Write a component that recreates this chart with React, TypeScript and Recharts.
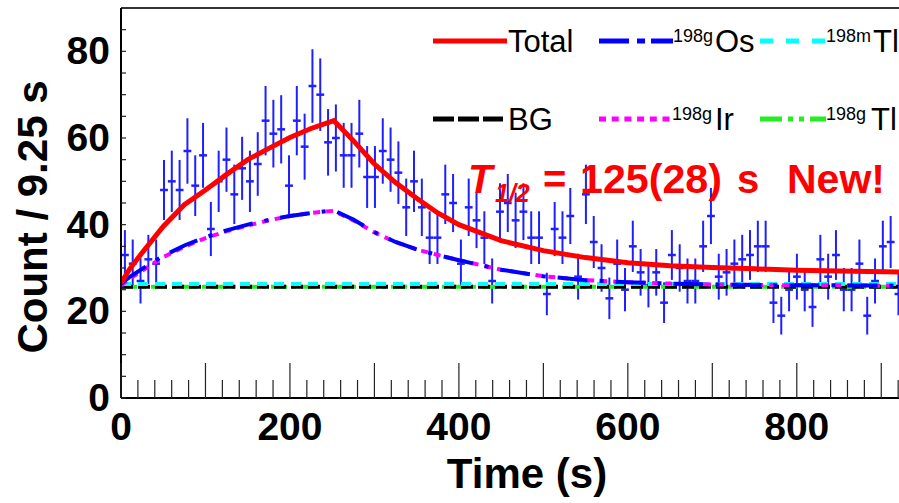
import React from "react";
import { ComposedChart, ErrorBar, Line, ReferenceLine, Scatter, XAxis, YAxis } from "recharts";

const FONT = "'Liberation Sans', Arial, Helvetica, sans-serif";
const BIN_WIDTH = 9.25;

// counts per 9.25 s bin (first bin centred at 4.6 s)
const counts = [
  33, 31, 27, 32, 31, 48, 50, 48, 57, 49,
  56, 39, 50, 55, 47, 53, 50, 54, 64, 61,
  62, 49, 64, 58, 72, 70, 59, 60, 56, 56,
  61, 51, 51, 57, 55, 52, 44, 50, 44, 37,
  37, 47, 45, 31, 44, 41, 37, 27, 43, 45,
  41, 43, 37, 37, 24, 39, 37, 42, 28, 47,
  36, 30, 23, 31, 25, 35, 29, 26, 29, 22,
  33, 30, 27, 27, 35, 42, 28, 29, 31, 32,
  33, 35, 35, 22, 19, 25, 28, 25, 21, 32,
  28, 33, 25, 25, 31, 19, 27, 35, 36, 24
];

// fit curves, sampled at these times
const fitTimes = [0, 10, 25, 50, 75, 100, 125, 150, 175, 200, 225, 252, 275, 300, 325, 350, 375, 400, 450, 500, 550, 600, 650, 700, 750, 800, 850, 921];
const totalFit = [26.5, 29.7, 33.5, 39.6, 44.6, 48.0, 51.6, 55.0, 57.6, 60.1, 62.2, 64.0, 59.4, 54.0, 49.7, 46.1, 42.7, 40.0, 36.3, 34.0, 32.4, 31.2, 30.5, 30.1, 29.8, 29.5, 29.3, 29.1];
const osFit = [26.4, 27.9, 29.8, 32.8, 35.2, 37.1, 38.7, 40.0, 41.1, 42.0, 42.7, 43.3, 41.2, 38.3, 36.0, 34.3, 33.0, 31.8, 29.6, 28.1, 27.2, 26.7, 26.4, 26.2, 26.1, 26.0, 26.0, 25.9];
const irFit = [26.0, 27.5, 29.4, 32.5, 34.9, 36.9, 38.5, 39.8, 41.0, 42.0, 42.7, 43.2, 41.0, 38.2, 36.0, 34.3, 33.0, 31.8, 29.6, 28.1, 27.2, 26.7, 26.4, 26.2, 26.1, 26.0, 26.0, 25.9];
const flatTimes = [0, 921];
const tlmFit = [26.3, 26.3];
const bgFit = [25.7, 25.7];
const tlgFit = [25.7, 25.7];

const xLabels = [0, 200, 400, 600, 800];
const yLabels = [0, 20, 40, 60, 80];
const xTicks = Array.from({ length: 47 }, (_, i) => i * 20);
const yTicks = Array.from({ length: 18 }, (_, i) => i * 5);

const points = counts.map((c, k) => ({ t: (k + 0.5) * BIN_WIDTH, v: c, ey: Math.sqrt(c), ex: BIN_WIDTH / 2 }));
const toSeries = (times: number[], vals: number[]) => times.map((t, i) => ({ t, v: vals[i] }));

function XTick(props: any) {
  const { x, y, payload } = props;
  const v = payload.value;
  return (
    <g>
      <line x1={x} x2={x} y1={y} y2={y - (v % 100 === 0 ? 35 : 18)} stroke="#222" strokeWidth={1.2} />
      {xLabels.includes(v) && (
        <text x={x} y={y + 42} textAnchor="middle" fontSize={39} fontWeight="bold" fill="#000" fontFamily={FONT}>
          {v}
        </text>
      )}
    </g>
  );
}

function YTick(props: any) {
  const { x, y, payload } = props;
  const v = payload.value;
  return (
    <g>
      <line x1={x} x2={x + 5} y1={y} y2={y} stroke="#222" strokeWidth={1.2} />
      {yLabels.includes(v) && (
        <text x={x - 11} y={y + 13} textAnchor="end" fontSize={39} fontWeight="bold" fill="#000" fontFamily={FONT}>
          {v}
        </text>
      )}
    </g>
  );
}

const Empty = () => <g />;

function LegendEntry({ x1, x2, y, color, dash, sup, name, nameX }: any) {
  return (
    <g>
      <line x1={x1} x2={x2} y1={y} y2={y} stroke={color} strokeWidth={5} strokeDasharray={dash} />
      {sup && (
        <text x={x2} y={y + 1} fontSize={18} fill="#000" fontFamily={FONT}>
          {sup}
        </text>
      )}
      <text x={nameX} y={y + 11} fontSize={31} fill="#000" fontFamily={FONT}>
        {name}
      </text>
    </g>
  );
}

export default function App() {
  return (
    <div style={{ position: "fixed", left: 0, top: 0, width: 899, height: 503, background: "#fff" }}>
      <ComposedChart width={899} height={503} margin={{ top: 8, right: 0, left: 0, bottom: 0 }}>
        <XAxis
          dataKey="t"
          type="number"
          domain={[0, 921]}
          ticks={xTicks}
          interval={0}
          tickSize={0}
          tickMargin={0}
          tickLine={false}
          axisLine={{ stroke: "#000", strokeWidth: 2 }}
          height={105}
          tick={<XTick />}
          allowDataOverflow
        />
        <YAxis
          type="number"
          domain={[0, 90]}
          ticks={yTicks}
          interval={0}
          tickSize={0}
          tickMargin={0}
          tickLine={false}
          axisLine={{ stroke: "#000", strokeWidth: 2 }}
          width={121}
          tick={<YTick />}
          allowDataOverflow
        />
        <ReferenceLine y={90} stroke="#333" strokeWidth={2} />
        <Scatter data={points} dataKey="v" shape={<Empty />} isAnimationActive={false}>
          <ErrorBar dataKey="ey" direction="y" width={0} stroke="#1f1fff" strokeWidth={2} />
          <ErrorBar dataKey="ex" direction="x" width={0} stroke="#1f1fff" strokeWidth={2.5} />
        </Scatter>
        <Line data={toSeries(flatTimes, tlgFit)} dataKey="v" stroke="#22ee22" strokeWidth={4} strokeDasharray="16 5 4 5" dot={false} isAnimationActive={false} />
        <Line data={toSeries(flatTimes, bgFit)} dataKey="v" stroke="#000" strokeWidth={4} strokeDasharray="12 5" dot={false} isAnimationActive={false} />
        <Line data={toSeries(flatTimes, tlmFit)} dataKey="v" stroke="#00ffff" strokeWidth={4} strokeDasharray="10 7" dot={false} isAnimationActive={false} />
        <Line data={toSeries(fitTimes, irFit)} dataKey="v" stroke="#ff00ff" strokeWidth={4} strokeDasharray="7 6" dot={false} isAnimationActive={false} />
        <Line data={toSeries(fitTimes, osFit)} dataKey="v" stroke="#0000ff" strokeWidth={4} strokeDasharray="30 12 4 12" dot={false} isAnimationActive={false} />
        <Line data={toSeries(fitTimes, totalFit)} dataKey="v" stroke="#ff0000" strokeWidth={5} dot={false} isAnimationActive={false} />
      </ComposedChart>
      <svg width={899} height={503} style={{ position: "absolute", left: 0, top: 0, pointerEvents: "none" }}>
        <LegendEntry x1={433} x2={507} y={41} color="#ff0000" name="Total" nameX={508} />
        <LegendEntry x1={599} x2={673} y={41} color="#0000ff" dash="30 8 8 6" sup="198g" name="Os" nameX={715} />
        <LegendEntry x1={760} x2={826} y={41} color="#00ffff" dash="13 13" sup="198m" name="Tl" nameX={873} />
        <LegendEntry x1={433} x2={503} y={119} color="#000" dash="21 4" name="BG" nameX={508} />
        <LegendEntry x1={599} x2={672} y={119} color="#ff00ff" dash="7 5.7" sup="198g" name="Ir" nameX={715} />
        <LegendEntry x1={760} x2={826} y={119} color="#22ee22" dash="22 6 5 6 5 6" sup="198g" name="Tl" nameX={871} />

        <g fill="#ff0000" fontFamily={FONT} fontWeight="bold">
          <text x={468} y={193} fontSize={40} fontStyle="italic">T</text>
          <text x={495} y={202} fontSize={25} fontStyle="italic">1/2</text>
          <text x={543} y={193} fontSize={40}>=</text>
          <text x={580} y={193} fontSize={41} textLength={142} lengthAdjust="spacingAndGlyphs">125(28)</text>
          <text x={737} y={193} fontSize={40}>s</text>
          <text x={787} y={193} fontSize={40} textLength={98} lengthAdjust="spacingAndGlyphs">New!</text>
        </g>

        <text x={47} y={217} transform="rotate(-90 47 217)" textAnchor="middle" fontSize={42} fontWeight="bold" fill="#000" fontFamily={FONT}>
          Count / 9.25 s
        </text>
        <text x={527} y={488} textAnchor="middle" fontSize={42} fontWeight="bold" fill="#000" fontFamily={FONT}>
          Time (s)
        </text>
      </svg>
    </div>
  );
}
